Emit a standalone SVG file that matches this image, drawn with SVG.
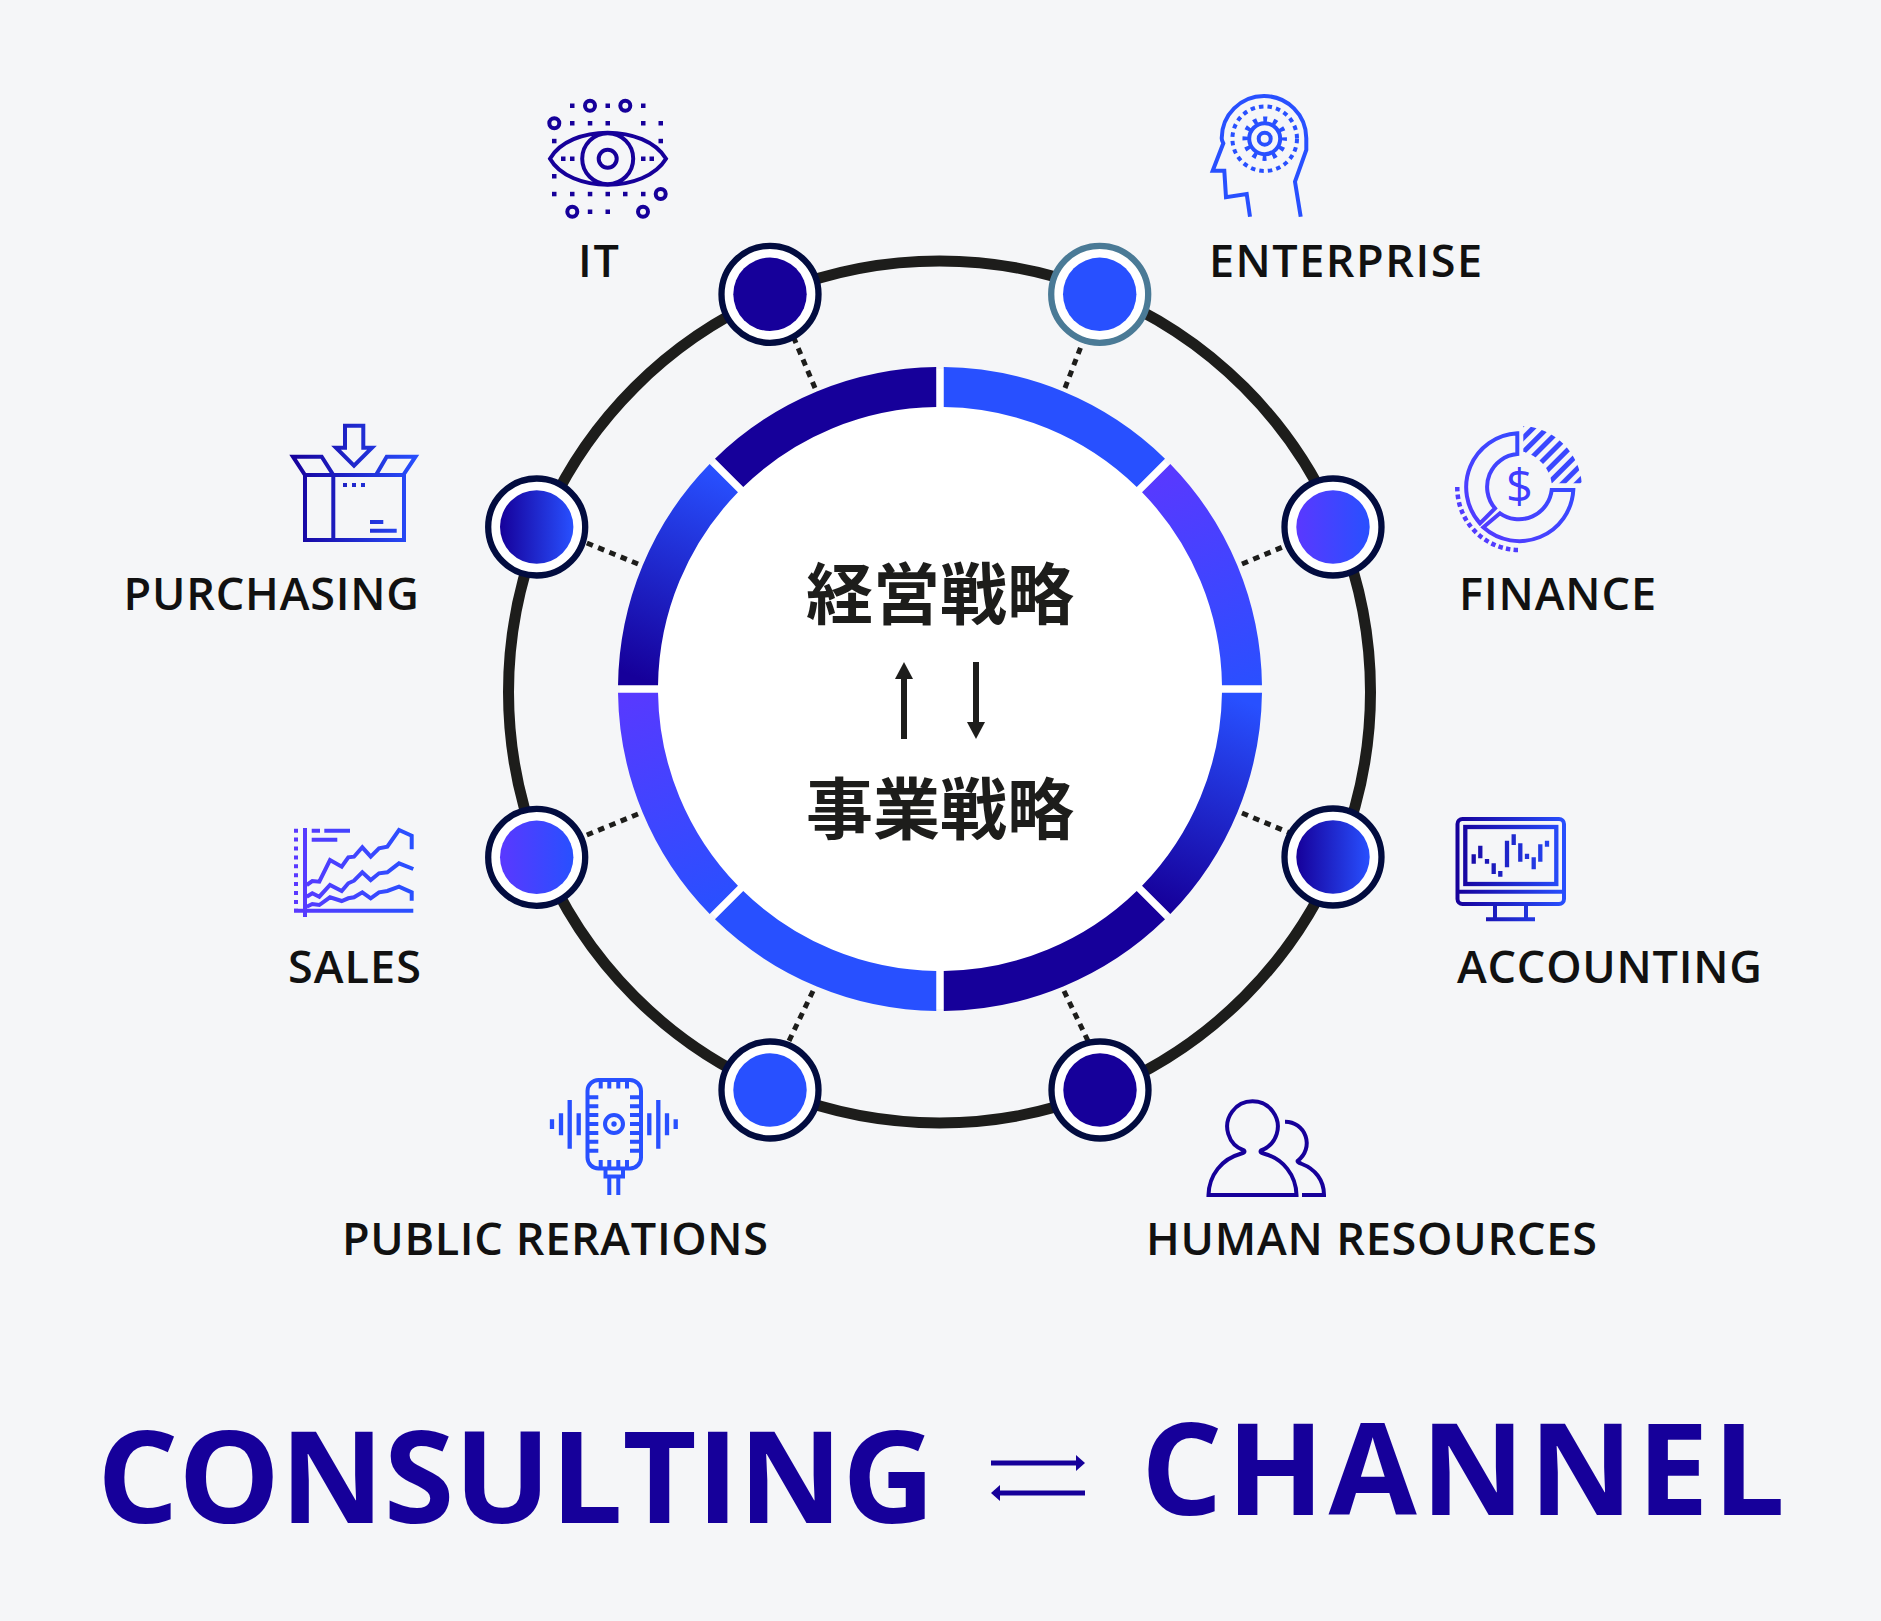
<svg xmlns="http://www.w3.org/2000/svg" width="1881" height="1621" viewBox="0 0 1881 1621">
  <style>
    .label { font-family: "Open Sans", "Noto Sans", "Liberation Sans", sans-serif; font-weight: 600; font-size: 45px; fill: #111; }
    .title { font-family: "Open Sans", "Noto Sans", "Liberation Sans", sans-serif; font-weight: 700; font-size: 128px; fill: #16009a; }
    .jp { font-family: "Noto Sans CJK JP", sans-serif; font-weight: 700; font-size: 67px; fill: #1d1d1b; text-anchor: middle; }
    .ring { fill: #fff; stroke: #020c3f; stroke-width: 6.3; }
    .icon { fill: none; stroke-width: 4; }
    .dark { stroke: #16009a; }
    .blue { stroke: #2850ff; }
    .link { fill: none; stroke: #1d1d1b; stroke-width: 5; stroke-dasharray: 6.5 5.7; }
    .ink { fill: none; stroke: #1d1d1b; stroke-width: 6; }
    .swap { fill: none; stroke: #16009a; stroke-width: 5; }
  </style>
  <defs>
    <linearGradient id="segPurpleBlue" gradientUnits="userSpaceOnUse" x1="0" y1="-320" x2="225" y2="-215"><stop offset="0" stop-color="#5a38ff"/><stop offset="1" stop-color="#2850ff"/></linearGradient>
    <linearGradient id="segBlueDark" gradientUnits="userSpaceOnUse" x1="10" y1="-300" x2="215" y2="-215"><stop offset="0" stop-color="#2850ff"/><stop offset="1" stop-color="#16009a"/></linearGradient>
    <linearGradient id="segBluePurple" gradientUnits="userSpaceOnUse" x1="0" y1="-320" x2="225" y2="-215"><stop offset="0" stop-color="#2850ff"/><stop offset="1" stop-color="#5a38ff"/></linearGradient>
    <linearGradient id="segDarkBlue" gradientUnits="userSpaceOnUse" x1="10" y1="-300" x2="215" y2="-215"><stop offset="0" stop-color="#16009a"/><stop offset="1" stop-color="#2850ff"/></linearGradient>
    <linearGradient id="nodeDarkBlue"><stop offset="0" stop-color="#16009a"/><stop offset="1" stop-color="#2850ff"/></linearGradient>
    <linearGradient id="nodePurple"><stop offset="0" stop-color="#5a38ff"/><stop offset="1" stop-color="#2850ff"/></linearGradient>
    <linearGradient id="boxStroke" gradientUnits="userSpaceOnUse" x1="290" y1="0" x2="418" y2="0"><stop offset="0" stop-color="#16009a"/><stop offset="1" stop-color="#2850ff"/></linearGradient>
    <linearGradient id="screenStroke" gradientUnits="userSpaceOnUse" x1="1456" y1="0" x2="1566" y2="0"><stop offset="0" stop-color="#16009a"/><stop offset="1" stop-color="#2850ff"/></linearGradient>
    <linearGradient id="chartStroke" gradientUnits="userSpaceOnUse" x1="294" y1="0" x2="413" y2="0"><stop offset="0" stop-color="#5a38ff"/><stop offset="1" stop-color="#2850ff"/></linearGradient>
    <linearGradient id="coinStroke" gradientUnits="userSpaceOnUse" x1="1460" y1="550" x2="1580" y2="430"><stop offset="0" stop-color="#5a38ff"/><stop offset="1" stop-color="#2850ff"/></linearGradient>
    <pattern id="hatch" patternUnits="userSpaceOnUse" width="10" height="10" patternTransform="rotate(45 1550 450)"><rect x="0" y="0" width="5" height="10" fill="#3a48ff"/></pattern>
    <path id="segment" d="M3.75-321.98A322 322 0 0 1 225-230.35L196.74-202.03A282 282 0 0 0 3.75-281.97Z"/>
  </defs>

  <rect width="1881" height="1621" fill="#f5f6f8"/>

  <g id="connectors">
    <circle cx="939.5" cy="692" r="431" fill="none" stroke="#1d1d1b" stroke-width="11"/>
    <path class="link" d="M815 388L793 336"/>
    <path class="link" d="M1065 388L1085 336"/>
    <path class="link" d="M1242 564L1290 544"/>
    <path class="link" d="M1242 813L1290 833"/>
    <path class="link" d="M1064 991L1090 1045"/>
    <path class="link" d="M813 991L787 1045"/>
    <path class="link" d="M638 814L582 837"/>
    <path class="link" d="M638 564L582 541"/>
  </g>

  <g id="hub">
    <circle cx="940" cy="689" r="320" fill="#fff"/>
    <g transform="translate(940 689)">
      <use href="#segment" fill="#2850ff"/>
      <use href="#segment" fill="url(#segPurpleBlue)" transform="rotate(45)"/>
      <use href="#segment" fill="url(#segBlueDark)" transform="rotate(90)"/>
      <use href="#segment" fill="#16009a" transform="rotate(135)"/>
      <use href="#segment" fill="#2850ff" transform="rotate(180)"/>
      <use href="#segment" fill="url(#segBluePurple)" transform="rotate(225)"/>
      <use href="#segment" fill="url(#segDarkBlue)" transform="rotate(270)"/>
      <use href="#segment" fill="#16009a" transform="rotate(315)"/>
    </g>
    <text class="jp" x="940" y="619">経営戦略</text>
    <text class="jp" x="940" y="834">事業戦略</text>
    <path class="ink" d="M904 739V675"/>
    <path d="M895 679L904 662L913 679Z" fill="#1d1d1b"/>
    <path class="ink" d="M976 662V726"/>
    <path d="M967 722L976 739L985 722Z" fill="#1d1d1b"/>
  </g>

  <g id="node-it">
    <circle class="ring" cx="770" cy="294.3" r="48.5"/>
    <circle cx="770" cy="294.3" r="36.7" fill="#16009a"/>
    <g class="icon dark">
      <path d="M550 158.7C570 124,645 124,666 158.7C645 193.4,570 193.4,550 158.7Z"/>
      <circle cx="607.7" cy="158.7" r="25.5"/>
      <circle cx="607.7" cy="158.7" r="9"/>
      <circle cx="590" cy="105.7" r="5"/><circle cx="625.3" cy="105.7" r="5"/>
      <circle cx="554.3" cy="123.3" r="5"/><circle cx="660.7" cy="194" r="5"/>
      <circle cx="572.3" cy="211.7" r="5"/><circle cx="643" cy="211.7" r="5"/>
    </g>
    <g fill="#16009a">
      <rect x="570" y="103.5" width="4.5" height="4.5"/><rect x="605.5" y="103.5" width="4.5" height="4.5"/><rect x="641" y="103.5" width="4.5" height="4.5"/>
      <rect x="570" y="121" width="4.5" height="4.5"/><rect x="587.8" y="121" width="4.5" height="4.5"/><rect x="605.5" y="121" width="4.5" height="4.5"/><rect x="641" y="121" width="4.5" height="4.5"/><rect x="658.5" y="121" width="4.5" height="4.5"/>
      <rect x="552" y="138.8" width="4.5" height="4.5"/><rect x="658.5" y="138.8" width="4.5" height="4.5"/>
      <rect x="561" y="156.5" width="4.5" height="4.5"/><rect x="570" y="156.5" width="4.5" height="4.5"/><rect x="641" y="156.5" width="4.5" height="4.5"/><rect x="649.5" y="156.5" width="4.5" height="4.5"/>
      <rect x="552" y="174" width="4.5" height="4.5"/>
      <rect x="552" y="191.8" width="4.5" height="4.5"/><rect x="570" y="191.8" width="4.5" height="4.5"/><rect x="587.8" y="191.8" width="4.5" height="4.5"/><rect x="605.5" y="191.8" width="4.5" height="4.5"/><rect x="623" y="191.8" width="4.5" height="4.5"/><rect x="641" y="191.8" width="4.5" height="4.5"/>
      <rect x="587.8" y="209.5" width="4.5" height="4.5"/><rect x="605.5" y="209.5" width="4.5" height="4.5"/>
    </g>
    <text class="label" x="578" y="276.5" textLength="41">IT</text>
  </g>

  <g id="node-enterprise">
    <circle class="ring" cx="1099.7" cy="294.3" r="48.5" style="stroke:#4a7a96"/>
    <circle cx="1099.7" cy="294.3" r="36.7" fill="#2850ff"/>
    <g class="icon blue">
      <path d="M1250 216.7L1246.7 194L1226 197.3L1224.3 170.7L1212.7 170.7L1223.3 143.3C1222 141,1221.7 140,1221.7 138.3A42.3 42.3 0 0 1 1306.3 138.3V150L1295 181.7L1300.7 216.7"/>
      <circle cx="1264.7" cy="138.7" r="32.3" stroke-dasharray="4.5 4.1"/>
      <circle cx="1264.7" cy="138.7" r="15.5"/>
      <circle cx="1264.7" cy="138.7" r="19.5" stroke-width="5.5" stroke-dasharray="4 6.2" stroke-dashoffset="2"/>
      <circle cx="1264.7" cy="138.7" r="6"/>
    </g>
    <text class="label" x="1209" y="276.5" textLength="273">ENTERPRISE</text>
  </g>

  <g id="node-finance">
    <circle class="ring" cx="1333" cy="527" r="48.5"/>
    <circle cx="1333" cy="527" r="36.7" fill="url(#nodePurple)"/>
    <g class="icon" stroke="url(#coinStroke)">
      <path d="M1517.3 433.3A54 54 0 0 0 1480 523.3L1495 508.3A33 33 0 0 1 1517.3 454Z"/>
      <path d="M1483.3 527.3A54 54 0 0 0 1573.3 490H1551.7A33 33 0 0 1 1500 513.3Z"/>
      <path d="M1457.3 487A62 62 0 0 0 1520 550" stroke-width="4.5" stroke-dasharray="4.5 3.2"/>
    </g>
    <path d="M1523.3 426A62 62 0 0 1 1581.7 483.3H1551.7A38 38 0 0 0 1523.3 451.7Z" fill="url(#hatch)"/>
    <text x="1519.5" y="503" text-anchor="middle" style="font-family:'Open Sans',sans-serif;font-size:47px;font-weight:400" fill="#3f3dff">$</text>
    <text class="label" x="1459" y="610" textLength="197">FINANCE</text>
  </g>

  <g id="node-accounting">
    <circle class="ring" cx="1333" cy="857" r="48.5"/>
    <circle cx="1333" cy="857" r="36.7" fill="url(#nodeDarkBlue)"/>
    <g class="icon" stroke="url(#screenStroke)">
      <rect x="1457.5" y="819" width="106.5" height="85" rx="5"/>
      <path d="M1457.5 891.7H1564"/>
      <rect x="1465.3" y="827" width="91" height="57" stroke-width="4.3"/>
      <path d="M1495 905V919M1526 905V919M1486 919.3H1535"/>
      <path stroke-width="4.3" d="M1473.7 854.3V863.7M1480.3 845.7V858.3M1487 859V863.7M1493.7 863.3V874M1500.3 871V876.7M1507 840.7V867.3M1513.7 834.3V845M1520.3 843.3V861.7M1527 853.7V859M1533.7 857.3V869.3M1540.3 844.3V861.7M1547 840.7V846.7"/>
    </g>
    <text class="label" x="1457" y="982.5" textLength="305">ACCOUNTING</text>
  </g>

  <g id="node-hr">
    <circle class="ring" cx="1100" cy="1090" r="48.5"/>
    <circle cx="1100" cy="1090" r="36.7" fill="#16009a"/>
    <g class="icon dark">
      <path d="M1208.5 1195C1209 1175,1222 1159,1240 1154Q1246 1152.5 1244 1150.5A25.3 25.3 0 1 1 1261 1150.5Q1259 1152.5 1265 1154C1283 1159,1296 1175,1296.5 1195Z"/>
      <path d="M1285 1121.7A21.5 21.5 0 0 1 1298 1160.5Q1296 1161.5 1302 1164C1315 1169,1324 1180,1324 1195H1302"/>
    </g>
    <text class="label" x="1146" y="1254.5" textLength="451">HUMAN RESOURCES</text>
  </g>

  <g id="node-pr">
    <circle class="ring" cx="770" cy="1090" r="48.5"/>
    <circle cx="770" cy="1090" r="36.7" fill="#2850ff"/>
    <g class="icon blue">
      <rect x="587.5" y="1080" width="53.5" height="88.5" rx="11"/>
      <path d="M600.7 1080V1088.5M609.3 1080V1088.5M618.3 1080V1088.5M627 1080V1088.5M600.7 1160V1168M609.3 1160V1168M618.3 1160V1168M627 1160V1168"/>
      <path d="M587 1097.3H598.3M587 1106.3H598.3M587 1115H598.3M587 1124H598.3M587 1133H598.3M587 1141.7H598.3M587 1150.7H598.3M630 1097.3H641M630 1106.3H641M630 1115H641M630 1124H641M630 1133H641M630 1141.7H641M630 1150.7H641"/>
      <circle cx="614" cy="1124" r="9"/>
      <path d="M605.5 1168V1176.5H623V1168M609.3 1177V1195M618.3 1177V1195"/>
      <path stroke-width="4.3" d="M552 1119.3V1129M561 1113.3V1135.3M569.7 1100V1148.7M578.7 1113.3V1135.3M649.3 1113.3V1135.3M658.3 1100V1148.7M667 1113.3V1135.3M675.7 1119.3V1129"/>
    </g>
    <circle cx="614" cy="1124" r="2.7" fill="#2850ff"/>
    <text class="label" x="342" y="1254.5" textLength="426">PUBLIC RERATIONS</text>
  </g>

  <g id="node-sales">
    <circle class="ring" cx="536.7" cy="857.3" r="48.5"/>
    <circle cx="536.7" cy="857.3" r="36.7" fill="url(#nodePurple)"/>
    <g class="icon" stroke="url(#chartStroke)">
      <path d="M305 828V917M294 910.7H413.3"/>
      <path d="M296 828.7V912" stroke-dasharray="4 4.9"/>
      <path d="M311.7 830.7H320M324.3 830.7H350M311.7 839.7H337.3"/>
      <path d="M306.7 885L312.3 881L319.3 881.7L330 860L341.7 866.7L348.3 857.3L354 856.7L362.3 847.3L370.7 856.7L379 848.3L387.3 846.7L399 830L411.7 835.7V849.3"/>
      <path d="M306.7 896.7L312.3 893.3L319.3 896.7L330 885L341.7 891L348.3 883.3L354 880.7L362.3 872.3L370.7 880L379 873.3L387.3 872.3L399 863.3L413.3 869"/>
      <path d="M306.7 906.7L312.3 904L319.3 905L330 897.3L341.7 901L348.3 898.3L354 897.3L362.3 892.3L370.7 898.3L379 892.3L387.3 891L399 886.7L411.7 892.3V900.7"/>
    </g>
    <text class="label" x="288" y="982.5" textLength="133">SALES</text>
  </g>

  <g id="node-purchasing">
    <circle class="ring" cx="536.7" cy="527" r="48.5"/>
    <circle cx="536.7" cy="527" r="36.7" fill="url(#nodeDarkBlue)"/>
    <g class="icon" stroke="url(#boxStroke)">
      <rect x="305" y="475" width="99" height="65"/>
      <path d="M333.3 475V540"/>
      <path d="M293 456.7H321.7L333.3 475H305Z"/>
      <path d="M415.5 456.7H386.7L376 475H403.3Z"/>
      <path d="M345 425.7H363.3V447.7H372L354 465.7L336 447.7H345Z"/>
      <path d="M343 485H347M352 485H356M361 485H365M370 522H383.3M370 530.7H396.7"/>
    </g>
    <text class="label" x="123.5" y="610" textLength="295.5">PURCHASING</text>
  </g>

  <g id="tagline">
    <text class="title" x="97" y="1523" textLength="838">CONSULTING</text>
    <path class="swap" d="M991 1463H1076M994 1493H1085"/>
    <path d="M1076 1455L1085 1463L1076 1471Z" fill="#16009a"/>
    <path d="M1000 1485L991 1493L1000 1501Z" fill="#16009a"/>
    <text class="title" x="1141" y="1515" textLength="644">CHANNEL</text>
  </g>
</svg>
